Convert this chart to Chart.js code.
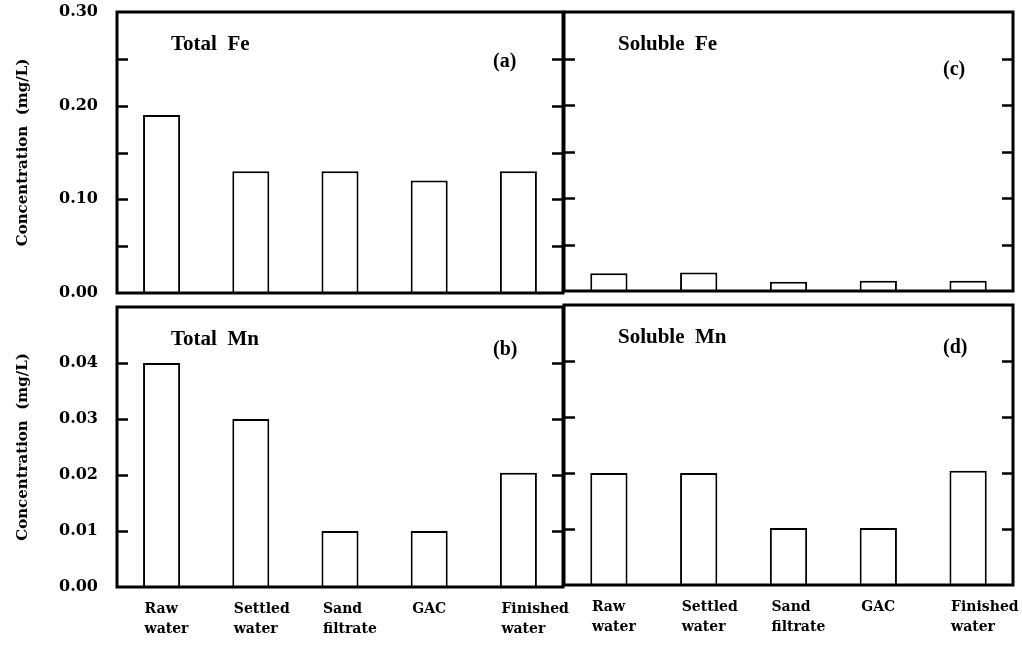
<!DOCTYPE html>
<html lang="en">
<head>
<meta charset="UTF-8" />
<title>Fe and Mn through the treatment train</title>
<script src="https://cdn.jsdelivr.net/npm/chart.js"></script>
<style>
  body { margin: 0; background: #fff; }
  #wrap { position: relative; width: 1022px; height: 649px; }
  #wrap canvas { position: absolute; left: 0; top: 0; }
</style>
</head>
<body>
<div id="wrap">
  <canvas id="feTotal" width="1022" height="649"></canvas>
  <canvas id="feSoluble" width="1022" height="649"></canvas>
  <canvas id="mnTotal" width="1022" height="649"></canvas>
  <canvas id="mnSoluble" width="1022" height="649"></canvas>
</div>
<script>
// treatment stages (multi-line tick labels)
const stages = [['Raw', 'water'], ['Settled', 'water'], ['Sand', 'filtrate'], ['GAC'], ['Finished', 'water']];

// concentrations, mg/L
const totalFe   = [0.19, 0.13, 0.13, 0.12, 0.13];
const solubleFe = [0.019, 0.020, 0.010, 0.011, 0.011];
const totalMn   = [0.040, 0.030, 0.010, 0.010, 0.0204];
const solubleMn = [0.020, 0.020, 0.0102, 0.0102, 0.0204];

// y axis ranges: Fe row and Mn row
const feMax = 0.30, feStep = 0.05;
const mnMax = 0.05, mnStep = 0.01;

Chart.defaults.font.family = "'DejaVu Serif', serif";
Chart.defaults.font.weight = 'bold';
Chart.defaults.color = '#000';

// box around the plot area with inward ticks on both sides
const frame = {
  id: 'frame',
  afterDatasetsDraw(chart) {
    const { ctx, chartArea: a } = chart;
    const y = chart.scales.y;
    ctx.save();
    ctx.strokeStyle = '#000';
    ctx.lineWidth = 2.5;
    y.ticks.forEach(t => {
      if (t.value <= y.min || t.value >= y.max - 1e-9) return;
      const py = Math.round(y.getPixelForValue(t.value)) + 0.5;
      ctx.beginPath();
      ctx.moveTo(a.left, py); ctx.lineTo(a.left + 11, py);
      ctx.moveTo(a.right, py); ctx.lineTo(a.right - 11, py);
      ctx.stroke();
    });
    ctx.lineWidth = 3;
    ctx.strokeRect(a.left, a.top, a.right - a.left, a.bottom - a.top);
    ctx.restore();
  }
};

// panel name and letter inside the plot area
const panelLabel = {
  id: 'panelLabel',
  afterDraw(chart, args, opts) {
    const { ctx, chartArea: a } = chart;
    ctx.save();
    ctx.fillStyle = '#000';
    ctx.textBaseline = 'middle';
    ctx.textAlign = 'left';
    ctx.font = "bold 21px 'Liberation Serif'";
    ctx.fillText(opts.title, a.left + 54, a.top + 33);
    ctx.font = "bold 20px 'Liberation Serif'";
    ctx.fillText(opts.letter, a.right - 70, a.top + opts.letterY);
    ctx.restore();
  }
};

// keep the plot area where it is, whatever the tick labels overhang
function noOverhang(s) {
  s.paddingLeft = s.paddingRight = s.paddingTop = s.paddingBottom = 0;
}

function panel(id, values, o) {
  return new Chart(document.getElementById(id), {
    type: 'bar',
    data: {
      labels: stages,
      datasets: [{
        data: values,
        backgroundColor: '#fff',
        borderColor: '#000',
        borderWidth: 2,
        categoryPercentage: 1,
        barPercentage: 0.415
      }]
    },
    options: {
      responsive: false,
      animation: false,
      events: [],
      layout: { padding: o.pad },
      plugins: {
        legend: { display: false },
        tooltip: { enabled: false },
        panelLabel: { title: o.title, letter: o.letter, letterY: o.letterY }
      },
      scales: {
        x: {
          display: o.showX,
          grid: { display: false },
          border: { display: false },
          ticks: {
            font: { size: 14, lineHeight: 1.45 },
            align: 'start',
            labelOffset: -17,
            padding: 4,
            maxRotation: 0,
            autoSkip: false
          },
          afterFit(s) {
            noOverhang(s);
            if (o.showX) s.height = 62;
          }
        },
        y: {
          display: o.showY,
          min: 0,
          max: o.max,
          grid: { display: false },
          border: { display: false },
          ticks: {
            stepSize: o.step,
            font: { size: 16 },
            padding: 11,
            callback: o.fmt
          },
          title: {
            display: true,
            text: 'Concentration  (mg/L)',
            font: { size: 15 },
            padding: { top: 14, bottom: 0 }
          },
          afterFit(s) {
            noOverhang(s);
            if (o.showY) s.width = 117;
          }
        }
      }
    },
    plugins: [frame, panelLabel]
  });
}

const feLabel = v => (Math.round(v * 100) % 10 === 0 ? v.toFixed(2) : '');
const mnLabel = v => (v < mnMax - 1e-9 ? v.toFixed(2) : '');

panel('feTotal', totalFe, {
  pad: { left: 0, top: 12, right: 459, bottom: 356 },
  showX: false, showY: true, max: feMax, step: feStep, fmt: feLabel,
  title: 'Total  Fe', letter: '(a)', letterY: 50
});
panel('feSoluble', solubleFe, {
  pad: { left: 564, top: 12, right: 9, bottom: 358 },
  showX: false, showY: false, max: feMax, step: feStep, fmt: feLabel,
  title: 'Soluble  Fe', letter: '(c)', letterY: 58
});
panel('mnTotal', totalMn, {
  pad: { left: 0, top: 307, right: 459, bottom: 0 },
  showX: true, showY: true, max: mnMax, step: mnStep, fmt: mnLabel,
  title: 'Total  Mn', letter: '(b)', letterY: 43
});
panel('mnSoluble', solubleMn, {
  pad: { left: 564, top: 305, right: 9, bottom: 2 },
  showX: true, showY: false, max: mnMax, step: mnStep, fmt: mnLabel,
  title: 'Soluble  Mn', letter: '(d)', letterY: 43
});
</script>
</body>
</html>
